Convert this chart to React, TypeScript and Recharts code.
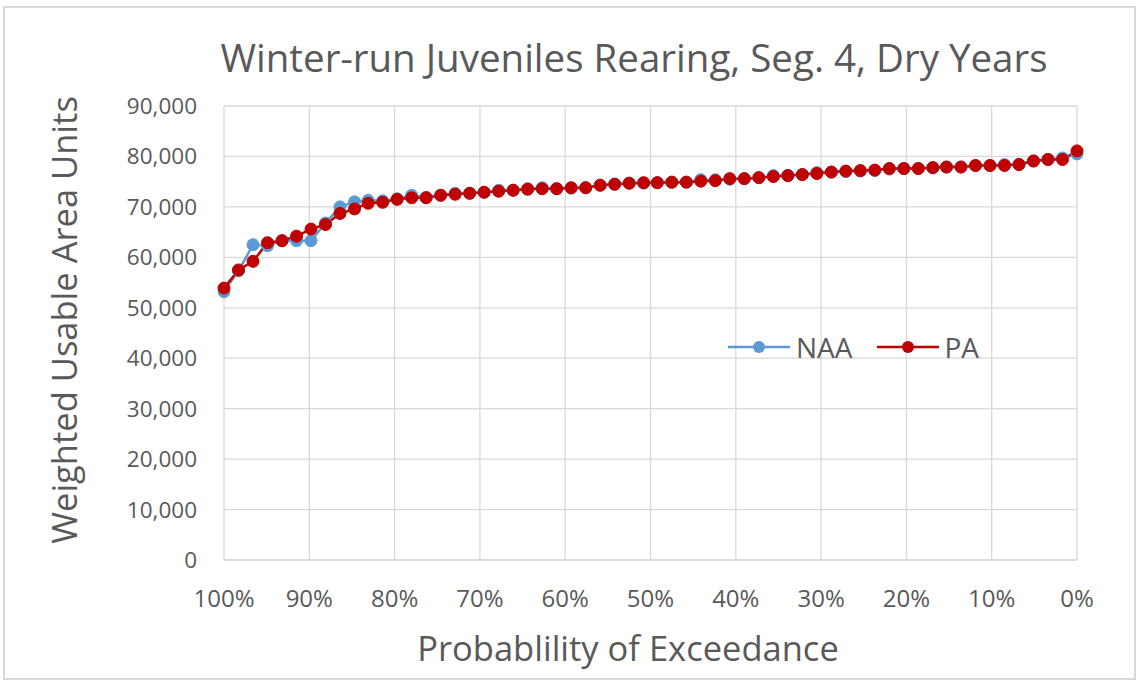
import { CartesianGrid, Legend, Line, LineChart, XAxis, YAxis } from "recharts";

// probability of exceedance (%) for each sorted value, 100% -> 0%
const exceedance = [
  100, 98.3, 96.6, 94.9, 93.2, 91.5, 89.8, 88.1, 86.4, 84.7,
  83.1, 81.4, 79.7, 78.0, 76.3, 74.6, 72.9, 71.2, 69.5, 67.8,
  66.1, 64.4, 62.7, 61.0, 59.3, 57.6, 55.9, 54.2, 52.5, 50.8,
  49.2, 47.5, 45.8, 44.1, 42.4, 40.7, 39.0, 37.3, 35.6, 33.9,
  32.2, 30.5, 28.8, 27.1, 25.4, 23.7, 22.0, 20.3, 18.6, 16.9,
  15.3, 13.6, 11.9, 10.2, 8.5, 6.8, 5.1, 3.4, 1.7, 0,
];

const naa = [
  53200, 57300, 62500, 62300, 63300, 63300, 63300, 66800, 70000, 71000,
  71300, 71200, 71600, 72300, 71900, 72300, 72700, 72700, 72900, 73300,
  73300, 73600, 73800, 73600, 73700, 73800, 74300, 74500, 74700, 74700,
  74800, 74900, 74900, 75400, 75400, 75500, 75600, 75800, 76200, 76200,
  76400, 76800, 76900, 77000, 77100, 77200, 77500, 77600, 77600, 77700,
  77900, 77900, 78200, 78200, 78400, 78400, 79100, 79400, 79700, 80500,
];

const pa = [
  53900, 57500, 59200, 62900, 63300, 64200, 65600, 66500, 68700, 69600,
  70700, 70900, 71500, 71800, 71800, 72300, 72500, 72700, 72900, 73100,
  73300, 73500, 73600, 73600, 73800, 73800, 74300, 74500, 74700, 74800,
  74800, 74900, 74900, 75100, 75200, 75600, 75600, 75800, 76000, 76200,
  76400, 76600, 76900, 77100, 77200, 77300, 77600, 77600, 77600, 77800,
  77900, 77900, 78200, 78200, 78200, 78400, 79100, 79400, 79400, 81100,
];

const xTicks = [100, 90, 80, 70, 60, 50, 40, 30, 20, 10, 0];
const yTicks = [0, 10000, 20000, 30000, 40000, 50000, 60000, 70000, 80000, 90000];

const rows = exceedance.map((p, i) => ({ p, NAA: naa[i], PA: pa[i] }));

const FONT = "'Open Sans', sans-serif";
const TEXT = "#595959";
const GRID = "#d9d9d9";
const BLUE = "#5b9bd5";
const RED = "#c00000";

function LegendBox() {
  const items = [
    { name: "NAA", color: BLUE },
    { name: "PA", color: RED },
  ];
  return (
    <div style={{ display: "flex", alignItems: "center", fontFamily: FONT }}>
      {items.map((it) => (
        <div key={it.name} style={{ display: "flex", alignItems: "center", marginRight: 24 }}>
          <svg width={62} height={14}>
            <line x1={0} y1={7} x2={62} y2={7} stroke={it.color} strokeWidth={2.5} />
            <circle cx={31} cy={7} r={6} fill={it.color} />
          </svg>
          <span style={{ fontSize: 28, color: TEXT, marginLeft: 6, lineHeight: 1 }}>{it.name}</span>
        </div>
      ))}
    </div>
  );
}

export default function App() {
  return (
    <div
      style={{
        position: "absolute",
        left: 0,
        top: 0,
        width: 1138,
        height: 683,
        background: "#fff",
        fontFamily: FONT,
      }}
    >
      <div
        style={{
          position: "absolute",
          left: 3,
          top: 6,
          width: 1129,
          height: 670,
          border: "2px solid #d9d9d9",
        }}
      />
      <div
        style={{
          position: "absolute",
          left: 0,
          width: 1268,
          top: 34,
          textAlign: "center",
          fontSize: 38.5,
          color: TEXT,
          lineHeight: 1.2,
          whiteSpace: "nowrap",
        }}
      >
        Winter-run Juveniles Rearing, Seg. 4, Dry Years
      </div>
      <div
        style={{
          position: "absolute",
          left: 0,
          width: 1256,
          top: 627,
          textAlign: "center",
          fontSize: 34.5,
          color: TEXT,
          lineHeight: 1.2,
        }}
      >
        Probablility of Exceedance
      </div>
      <div
        style={{
          position: "absolute",
          left: 64,
          top: 320,
          transform: "translate(-50%, -50%) rotate(-90deg)",
          whiteSpace: "nowrap",
          fontSize: 34.5,
          color: TEXT,
          lineHeight: 1.2,
        }}
      >
        Weighted Usable Area Units
      </div>
      <LineChart
        width={1138}
        height={683}
        data={rows}
        margin={{ top: 106, right: 61, bottom: 63, left: 104 }}
        style={{ position: "absolute", left: 0, top: 0 }}
      >
        <CartesianGrid stroke={GRID} strokeWidth={1.3} />
        <XAxis
          dataKey="p"
          type="number"
          domain={[0, 100]}
          reversed
          ticks={xTicks}
          tickFormatter={(v) => `${v}%`}
          interval={0}
          height={60}
          tickSize={0}
          tickMargin={30}
          axisLine={{ stroke: GRID, strokeWidth: 1.3 }}
          tickLine={false}
          tick={{ fill: TEXT, fontSize: 24, fontFamily: FONT }}
        />
        <YAxis
          type="number"
          domain={[0, 90000]}
          ticks={yTicks}
          interval={0}
          width={120}
          tickSize={0}
          tickMargin={27}
          axisLine={false}
          tickLine={false}
          tickFormatter={(v) => Number(v).toLocaleString("en-US")}
          tick={{ fill: TEXT, fontSize: 22.5, fontFamily: FONT }}
        />
        <Legend
          verticalAlign="middle"
          align="center"
          layout="horizontal"
          content={() => <LegendBox />}
          wrapperStyle={{ position: "absolute", left: 728, top: 333, width: 320, height: 30 }}
        />
        <Line
          dataKey="NAA"
          stroke={BLUE}
          strokeWidth={2.5}
          dot={{ r: 6, fill: BLUE, stroke: BLUE, strokeWidth: 1 }}
          activeDot={false}
          isAnimationActive={false}
        />
        <Line
          dataKey="PA"
          stroke={RED}
          strokeWidth={2.5}
          dot={{ r: 6, fill: RED, stroke: RED, strokeWidth: 1 }}
          activeDot={false}
          isAnimationActive={false}
        />
      </LineChart>
    </div>
  );
}
